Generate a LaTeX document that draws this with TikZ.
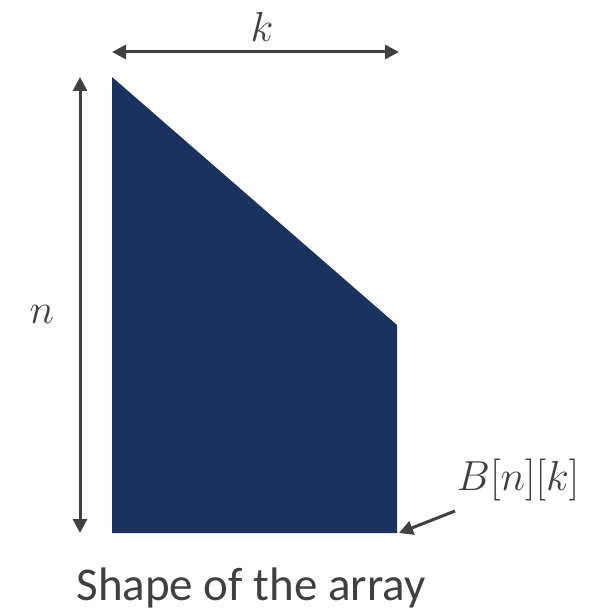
\RequirePackage{fix-cm}
\documentclass[tikz,border=0pt]{standalone}
\usepackage{fontspec}
\setsansfont{Carlito}
\usetikzlibrary{arrows.meta}
\definecolor{navy}{RGB}{27,49,96}
\definecolor{ink}{RGB}{64,64,64}
\begin{document}
\begin{tikzpicture}[x=1pt,y=-1pt,
  dimarrow/.style={draw=ink,line width=3pt,{Triangle[length=14pt,width=14pt]}-{Triangle[length=14pt,width=14pt]}},
  ptrarrow/.style={draw=ink,line width=3pt,-{Triangle[length=14pt,width=14pt]}},
  mathlbl/.style={text=ink,font=\fontsize{42}{46}\selectfont,inner sep=0pt,anchor=base}]
\useasboundingbox (0,0) rectangle (605,612);
\fill[navy] (112,77) -- (397,325) -- (397,533) -- (112,533) -- cycle;
\coordinate (kl) at (112,52);
\coordinate (kr) at (399,52);
\draw[dimarrow] (kl) -- (kr);
\node[mathlbl] (k) at (262,42) {$k$};
\coordinate (nt) at (80,77);
\coordinate (nb) at (80,533);
\draw[dimarrow] (nt) -- (nb);
\node[mathlbl] (n) at (42,323) {$n$};
\node[mathlbl] (B) at (518,490) {$B[n][k]$};
\coordinate (bs) at (455,511);
\coordinate (be) at (399,533);
\draw[ptrarrow] (bs) -- (be);
\node[text=ink,font=\sffamily\fontsize{47}{52}\selectfont,inner sep=0pt,anchor=base] (cap) at (251,600) {Shape of the array};
\end{tikzpicture}
\end{document}
